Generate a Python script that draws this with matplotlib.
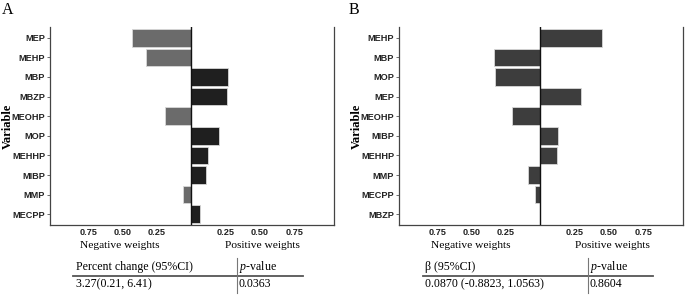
import numpy as np
import matplotlib
matplotlib.use('Agg')
import matplotlib.pyplot as plt

plt.rcParams['mathtext.fontset'] = 'custom'
plt.rcParams['mathtext.rm'] = 'Liberation Serif'
plt.rcParams['mathtext.it'] = 'Liberation Serif:italic'

# weights (negative = negative-direction index)
vars_a = ['MEP', 'MEHP', 'MBP', 'MBZP', 'MEOHP', 'MOP', 'MEHHP', 'MIBP', 'MMP', 'MECPP']
w_a = [-0.43, -0.33, 0.27, 0.26, -0.19, 0.20, 0.12, 0.11, -0.06, 0.06]

vars_b = ['MEHP', 'MBP', 'MOP', 'MEP', 'MEOHP', 'MIBP', 'MEHHP', 'MMP', 'MECPP', 'MBZP']
w_b = [0.45, -0.335, -0.33, 0.30, -0.21, 0.13, 0.12, -0.09, -0.04, 0.0]

xticks = [-0.75, -0.5, -0.25, 0.25, 0.5, 0.75]
xticklabels = ['0.75', '0.50', '0.25', '0.25', '0.50', '0.75']

table_a = ['Percent change (95%CI)', '3.27(0.21, 6.41)', '0.0363']
table_b = ['\u03b2 (95%CI)', '0.0870 (-0.8823, 1.0563)', '0.8604']

W, H = 685, 296
fig = plt.figure(figsize=(W / 100, H / 100), dpi=100)


def px(x, y):
    return x / W, 1 - y / H


serif = 'Liberation Serif'
sans = 'Liberation Sans'


def panel(left, right, names, weights, colors, letter, table, tcols):
    ax = fig.add_axes([left / W, 1 - 225 / H, (right - left) / W, 198 / H])
    y = np.arange(len(names))
    ax.barh(y, weights, height=0.9, color=colors, edgecolor='#d8d8d8', linewidth=0.6, zorder=2)
    ax.axvline(0, color='#111111', lw=1.0, zorder=3)
    ax.set_ylim(9.55, -0.55)
    ax.set_xlim(-1.03, 1.04)
    ax.set_yticks(y)
    ax.set_yticklabels(names, fontfamily=sans, fontweight='bold', fontsize=6.6, color='#222222')
    ax.set_xticks(xticks)
    ax.set_xticklabels(xticklabels, fontfamily=sans, fontweight='bold', fontsize=6.6, color='#222222')
    ax.tick_params(axis='y', length=2.5, width=0.6, pad=1, color='#555555')
    ax.tick_params(axis='x', length=0, pad=2.5)
    ax.spines['top'].set_visible(False)
    for s in ['left', 'right', 'bottom']:
        ax.spines[s].set_color('#444444')
        ax.spines[s].set_linewidth(0.9)

    fig.text(*px(letter[2], 126), 'Variable', fontfamily=serif, fontweight='bold', fontsize=9,
             rotation=90, ha='center', va='center')
    fig.text(*px(letter[1], 10), letter[0], fontfamily=serif, fontsize=11.5, ha='left', va='center')
    fig.text(*px(tcols[4], 246), 'Negative weights', fontfamily=serif, fontsize=8.2, ha='center', va='center')
    fig.text(*px(tcols[5], 246), 'Positive weights', fontfamily=serif, fontsize=8.2, ha='center', va='center')

    # small results table
    fig.text(*px(tcols[0], 267), table[0], fontfamily=serif, fontsize=8.6, ha='left', va='center')
    fig.text(*px(tcols[0], 284), table[1], fontfamily=serif, fontsize=8.6, ha='left', va='center')
    fig.text(*px(tcols[2] + 2, 267), r'$\it{p}$-value', fontfamily=serif, fontsize=8.6, ha='left', va='center')
    fig.text(*px(tcols[2] + 2, 284), table[2], fontfamily=serif, fontsize=8.6, ha='left', va='center')
    hx0, hy = px(tcols[1], 275.7)
    hx1, _ = px(tcols[3], 275.7)
    fig.add_artist(plt.Line2D([hx0, hx1], [hy, hy], color='#555555', lw=1.3, transform=fig.transFigure))
    vx, vy0 = px(tcols[2], 258)
    _, vy1 = px(tcols[2], 293)
    fig.add_artist(plt.Line2D([vx, vx], [vy0, vy1], color='#777777', lw=0.8, transform=fig.transFigure))
    return ax


cols_a = ['#6b6b6b' if w < 0 else '#1f1f1f' for w in w_a]
cols_b = ['#3d3d3d' for w in w_b]

panel(50, 334, vars_a, w_a, cols_a, ('A', 2, 8), table_a, [76, 73, 237, 303, 120, 262])
panel(399, 683, vars_b, w_b, cols_b, ('B', 349, 357), table_b, [425, 423, 588, 653, 471, 612])

fig.savefig('out.png', dpi=100)
